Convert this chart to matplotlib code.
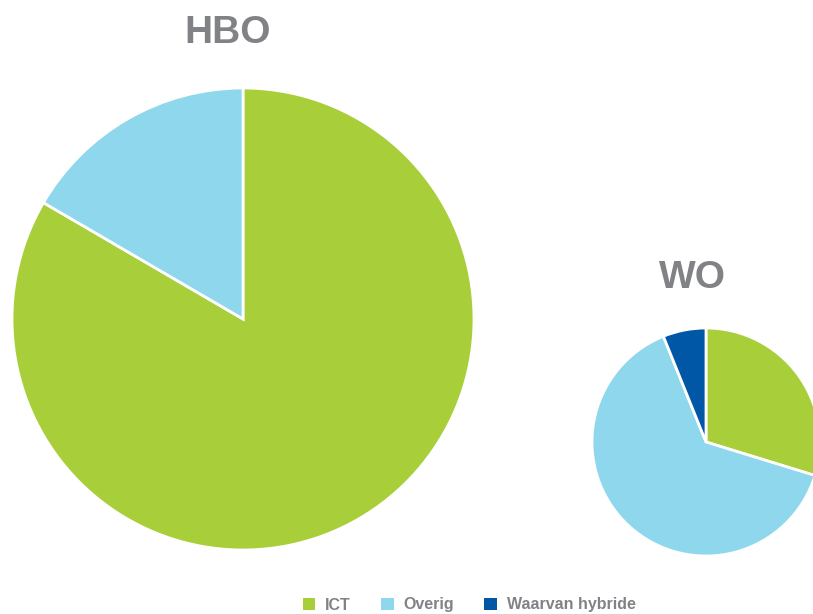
import matplotlib
matplotlib.use("Agg")
import matplotlib.pyplot as plt

plt.rcParams['font.family'] = ['Liberation Sans', 'DejaVu Sans']

labels = ["ICT", "Overig", "Waarvan hybride"]
colors = ["#a8cf3a", "#8fd7ec", "#0057a6"]
hbo = [83.4, 16.6]
wo = [29.75, 64.15, 6.1]

W, H = 813, 614
fig = plt.figure(figsize=(W / 100, H / 100), dpi=100)

def box(cx, cy, r):
    # axes rect in figure fraction from pixel centre/radius
    return [(cx - r) / W, (H - cy - r) / H, 2 * r / W, 2 * r / H]

wp = dict(edgecolor="white", linewidth=2)

ax1 = fig.add_axes(box(243, 319, 231))
ax1.pie(hbo, colors=colors[:2], startangle=90, counterclock=False,
        wedgeprops=wp, radius=1)
ax1.set_xlim(-1, 1)
ax1.set_ylim(-1, 1)
ax1.axis("off")

ax2 = fig.add_axes(box(706, 442, 114))
wedges, _ = ax2.pie(wo, colors=colors, startangle=90, counterclock=False,
                    wedgeprops=wp, radius=1)
ax2.set_xlim(-1, 1)
ax2.set_ylim(-1, 1)
ax2.axis("off")

grey = "#808285"
fig.text(228 / W, 1 - 33 / H, "HBO", ha="center", va="center",
         fontsize=28, fontweight="bold", color=grey)
fig.text(692 / W, 1 - 278 / H, "WO", ha="center", va="center",
         fontsize=28, fontweight="bold", color=grey)

leg = fig.legend(wedges, labels, loc="center", bbox_to_anchor=(469 / W, 1 - 605 / H),
                 ncol=3, frameon=False, handlelength=0.8, handleheight=0.8,
                 handletextpad=0.6, columnspacing=1.9,
                 prop=dict(size=11.5, weight="bold"))
for t in leg.get_texts():
    t.set_color(grey)
for h in leg.legend_handles:
    h.set_edgecolor("none")

fig.savefig("out.png", dpi=100)
